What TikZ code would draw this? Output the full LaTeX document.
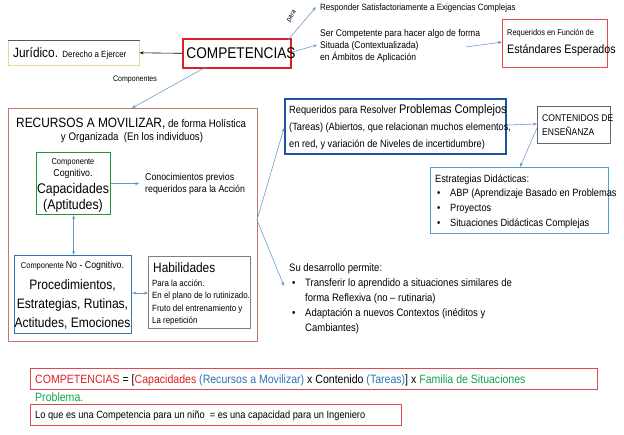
\documentclass[tikz,border=0pt]{standalone}
\usepackage{fontspec}
\setmainfont{Liberation Sans}[FakeStretch=0.88]
\usetikzlibrary{arrows.meta,calc}
\definecolor{cred}{RGB}{222,30,40}
\definecolor{cboxred}{RGB}{228,70,80}
\definecolor{cblue}{RGB}{46,117,182}
\definecolor{cgreen}{RGB}{20,160,80}
\definecolor{carrow}{RGB}{105,150,205}
\definecolor{cdblue}{RGB}{25,85,160}
\definecolor{cgrn}{RGB}{30,150,60}
\definecolor{crec}{RGB}{195,120,110}
\definecolor{cyel}{RGB}{232,215,150}
\definecolor{cestr}{RGB}{80,160,200}
\newcommand{\fs}[2]{\fontsize{#1}{#2}\selectfont}
\begin{document}
\begin{tikzpicture}[x=1pt,y=-1pt,
  box/.style={draw, rectangle, inner sep=0pt, anchor=north west},
  lbl/.style={inner sep=0pt, anchor=base west, align=left},
  clbl/.style={inner sep=0pt, anchor=base, align=center},
  arr/.style={draw=carrow, line width=0.55pt, -{Stealth[length=4pt,width=3pt]}},
  darr/.style={draw=carrow, line width=0.55pt, {Stealth[length=4pt,width=3pt]}-{Stealth[length=4pt,width=3pt]}},
]
\useasboundingbox[fill=white] (0,0) rectangle (624,434);

% ---------- top row ----------
\node[box, draw=cred, line width=1.6pt, minimum width=108pt, minimum height=29pt] (comp) at (182,38) {};
\node[clbl, font=\fs{15.5}{18}] (compt) at (241,58.5) {COMPETENCIAS};

\node[box, draw=cyel, line width=0.6pt, minimum width=131pt, minimum height=25pt] (jur) at (8,40) {};
\draw[gray!70!black, line width=0.6pt] (jur.north west) -- (jur.north east);
\node[lbl] (jurt) at (13,57) {\fs{13.5}{16}Jurídico. \fs{9}{11}Derecho a Ejercer};
\draw[black, line width=0.6pt, -{Stealth[length=4pt,width=3pt]}] (comp.west) -- (jur.east);

\coordinate (pa) at (288,40);
\node[lbl] (resp) at (320,10) {\fs{9.1}{11}Responder Satisfactoriamente a Exigencias Complejas};
\draw[arr] (pa) -- (316,7);
\node[inner sep=0pt, rotate=56, font=\fs{7}{8}] (para) at (292,16.5) {para};

\node[lbl, font=\fs{9.7}{12}] (ser) at (320,60) {Ser Competente para hacer algo de forma\\Situada (Contextualizada)\\en Ámbitos de Aplicación};
\draw[arr] (292,52) -- (317,45);

\node[box, draw=cboxred, line width=0.7pt, minimum width=105pt, minimum height=48pt] (reqf) at (502,19) {};
\node[lbl] (reqft1) at (507,35) {\fs{8.4}{10}Requeridos en Función de};
\node[lbl] (reqft2) at (507,53) {\fs{12.2}{14}Estándares Esperados};
\draw[arr] (466,47) -- (reqf.west |- 0,42);

\node[clbl, font=\fs{8}{10}] (compo) at (135,81) {Componentes};

% ---------- recursos ----------
\node[box, draw=crec, line width=0.7pt, minimum width=249pt, minimum height=233pt] (rec) at (8,108) {};
\draw[arr] (206,67) -- (rec.north -| 132,0);
\node[lbl] (rect1) at (16,127) {\fs{13.5}{16}RECURSOS A MOVILIZAR,\fs{11}{13} de forma Holística};
\node[clbl, font=\fs{11}{13}] (rect2) at (132,140) {y Organizada \ (En los individuos)};

\node[box, draw=cgrn, line width=1.2pt, minimum width=74pt, minimum height=62pt] (cog) at (36,152) {};
\node[clbl, font=\fs{8.5}{10}] (cog1) at (73,164) {Componente};
\node[clbl, font=\fs{10}{12}] (cog2) at (73,176) {Cognitivo.};
\node[clbl, font=\fs{14}{16}] (cog3) at (73,193) {Capacidades};
\node[clbl, font=\fs{14}{16}] (cog4) at (73,209) {(Aptitudes)};

\draw[arr] (cog.east) -- ++(28,0) coordinate (conoc);
\node[lbl, font=\fs{10}{12}] (conot) at (145,192) {Conocimientos previos\\requeridos para la Acción};

\node[box, draw=cblue, line width=1.2pt, minimum width=117pt, minimum height=78pt] (nocog) at (14,255) {};
\draw[darr] (cog.south) -- (cog.south |- nocog.north);
\node[clbl] (nc1) at (72.5,268) {\fs{8.5}{10}Componente \fs{10}{12}No - Cognitivo.};
\node[clbl, font=\fs{13.7}{16}] (nc2) at (72.5,289.5) {Procedimientos,};
\node[clbl, font=\fs{13.7}{16}] (nc3) at (72.5,308.5) {Estrategias, Rutinas,};
\node[clbl, font=\fs{13.7}{16}] (nc4) at (72.5,327.5) {Actitudes, Emociones};

\node[box, draw=gray, line width=0.7pt, minimum width=102pt, minimum height=72pt] (hab) at (148,256) {};
\draw[darr] (nocog.east |- 0,293) -- (hab.west |- 0,293);
\node[lbl, font=\fs{13.5}{16}] (hab1) at (153,272.5) {Habilidades};
\node[lbl, font=\fs{9}{12.5}] (hab2) at (152,323.5) {Para la acción.\\En el plano de lo rutinizado.\\Fruto del entrenamiento y\\La repetición};

% ---------- right part ----------
\node[box, draw=cdblue, line width=2.2pt, minimum width=221pt, minimum height=55pt] (probs) at (284,98) {};
\node[lbl] (pr1) at (289,113.5) {\fs{10.5}{13}Requeridos para Resolver \fs{12.5}{15}Problemas Complejos};
\node[lbl, font=\fs{10.5}{16.5}] (pr2) at (289,147) {(Tareas) (Abiertos, que relacionan muchos elementos,\\en red, y variación de Niveles de incertidumbre)};

\coordinate (rj) at (257,220);
\draw[arr] (rj) -- (probs.west |- 0,128);
\coordinate (sdtip) at (284,286);
\draw[arr] (rj) -- (sdtip);

\node[box, draw=gray!80!black, line width=0.7pt, minimum width=73pt, minimum height=37pt] (cont) at (537,106) {};
\node[lbl, font=\fs{9.7}{14}] (contt) at (542,135.5) {CONTENIDOS DE\\ENSEÑANZA};
\draw[arr] (probs.east |- 0,125) -- (cont.west |- 0,124);

\node[box, draw=cestr, line width=0.8pt, minimum width=178pt, minimum height=66pt] (estr) at (430,167) {};
\draw[arr] ($(cont.west)+(0,3)$) -- ($(estr.north west)+(90,0)$);
\node[lbl, font=\fs{10.5}{13}] (estr0) at (435,182) {Estrategias Didácticas:};
\node[lbl, font=\fs{10.5}{15}] (estrb) at (437,226.5) {•\\•\\•};
\node[lbl, font=\fs{10.5}{15}] (estrt) at (450,226.5) {ABP (Aprendizaje Basado en Problemas\\Proyectos\\Situaciones Didácticas Complejas};

\node[lbl, font=\fs{10.8}{15}] (sd0) at (289,271.5) {Su desarrollo permite:};
\node[lbl, font=\fs{10.8}{30}] (sdb) at (292,316.5) {•\\•};
\node[lbl, font=\fs{10.8}{15}] (sdt) at (305,331.5) {Transferir lo aprendido a situaciones similares de\\forma Reflexiva (no – rutinaria)\\Adaptación a nuevos Contextos (inéditos y\\Cambiantes)};

% ---------- bottom ----------
\node[box, draw=cboxred, line width=0.8pt, minimum width=567pt, minimum height=21pt] (form) at (30,368) {};
\node[lbl, font=\fs{12}{14}] (formt) at (35,383) {\textcolor{cred}{COMPETENCIAS} = [\textcolor{cred}{Capacidades} \textcolor{cblue}{(Recursos a Movilizar)} x Contenido \textcolor{cblue}{(Tareas)}] x \textcolor{cgreen}{Familia de Situaciones}};
\node[lbl, font=\fs{12}{14}, text=cgreen] (formp) at (35,401) {Problema.};

\node[box, draw=cboxred, line width=0.8pt, minimum width=371pt, minimum height=21pt] (ing) at (30,404) {};
\node[lbl, font=\fs{10.5}{13}] (ingt) at (35,418.5) {Lo que es una Competencia para un niño \ = es una capacidad para un Ingeniero};
\end{tikzpicture}
\end{document}
